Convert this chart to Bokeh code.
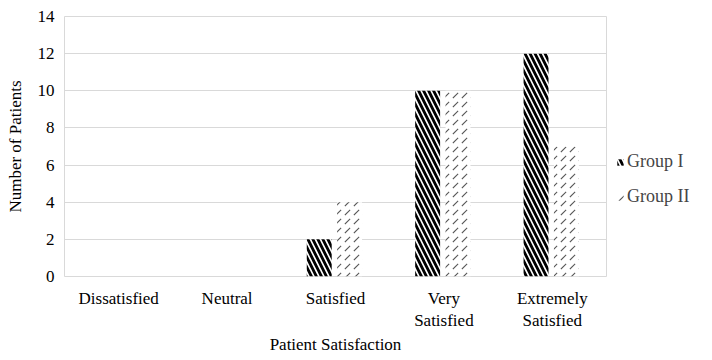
from bokeh.plotting import figure
from bokeh.models import FactorRange, Legend, LegendItem, FixedTicker, CategoricalAxis, CustomJSTickFormatter
from bokeh.transform import dodge
from bokeh.embed import file_html
from bokeh.resources import INLINE

categories = ["Dissatisfied", "Neutral", "Satisfied", "Very Satisfied", "Extremely Satisfied"]
label_line1 = ["Dissatisfied", "Neutral", "Satisfied", "Very", "Extremely"]
label_line2 = ["", "", "", "Satisfied", "Satisfied"]
group1 = [0, 0, 2, 10, 12]
group2 = [0, 0, 4, 10, 7]
y_ticks = [0, 2, 4, 6, 8, 10, 12, 14]
series_names = ["Group I", "Group II"]

FONT = "Liberation Serif"

p = figure(frame_width=542, frame_height=260, x_range=FactorRange(*categories), y_range=(0, 14),
           output_backend="svg", toolbar_location=None,
           min_border_left=64, min_border_right=106, min_border_top=16, min_border_bottom=84)

data = dict(cat=categories, g1=group1, g2=group2)
r1 = p.vbar(x=dodge("cat", -0.15, range=p.x_range), top="g1", width=0.23, source=data,
            fill_color="white", line_color=None, hatch_pattern="left_diagonal_line",
            hatch_color="black", hatch_scale=10, hatch_weight=2.8)
r2 = p.vbar(x=dodge("cat", 0.13, range=p.x_range), top="g2", width=0.23, source=data,
            fill_color="white", line_color=None, hatch_pattern="right_diagonal_dash",
            hatch_color="#555555", hatch_scale=9, hatch_weight=1.1)

p.outline_line_color = "#d9d9d9"
p.xgrid.grid_line_color = None
p.ygrid.grid_line_color = "#d9d9d9"
p.yaxis.ticker = FixedTicker(ticks=y_ticks)

x2 = CategoricalAxis()
p.add_layout(x2, "below")

def style(ax):
    ax.axis_line_color = None
    ax.major_tick_line_color = None
    ax.minor_tick_line_color = None
    ax.major_tick_out = 0
    ax.major_tick_in = 0
    ax.major_label_text_font = FONT
    ax.major_label_text_font_size = "17px"
    ax.major_label_text_color = "black"
    ax.axis_label_text_font = FONT
    ax.axis_label_text_font_size = "17px"
    ax.axis_label_text_font_style = "normal"
    ax.axis_label_text_color = "black"

for ax in (p.xaxis[0], x2, p.yaxis[0]):
    style(ax)

JS = "const i = cats.indexOf(tick); const s = (i >= 0) ? labels[i] : tick; return s === '' ? ' ' : s;"
p.xaxis[0].formatter = CustomJSTickFormatter(args=dict(cats=categories, labels=label_line1), code=JS)
p.xaxis[0].major_label_standoff = 12
x2.formatter = CustomJSTickFormatter(args=dict(cats=categories, labels=label_line2), code=JS)
x2.major_label_standoff = 0
x2.axis_label = "Patient Satisfaction"
x2.axis_label_standoff = 2
p.yaxis.axis_label = "Number of Patients"
p.yaxis.major_label_standoff = 10
p.yaxis.axis_label_standoff = 10

legend = Legend(items=[LegendItem(label=series_names[0], renderers=[r1]),
                       LegendItem(label=series_names[1], renderers=[r2])],
                location=(10, 69), border_line_color=None, background_fill_alpha=0,
                label_text_font=FONT, label_text_font_size="18px",
                glyph_width=8, glyph_height=8, spacing=14, padding=0, margin=0,
                label_standoff=3)
p.add_layout(legend, "right")

open("out.html", "w").write(file_html(p, INLINE))
